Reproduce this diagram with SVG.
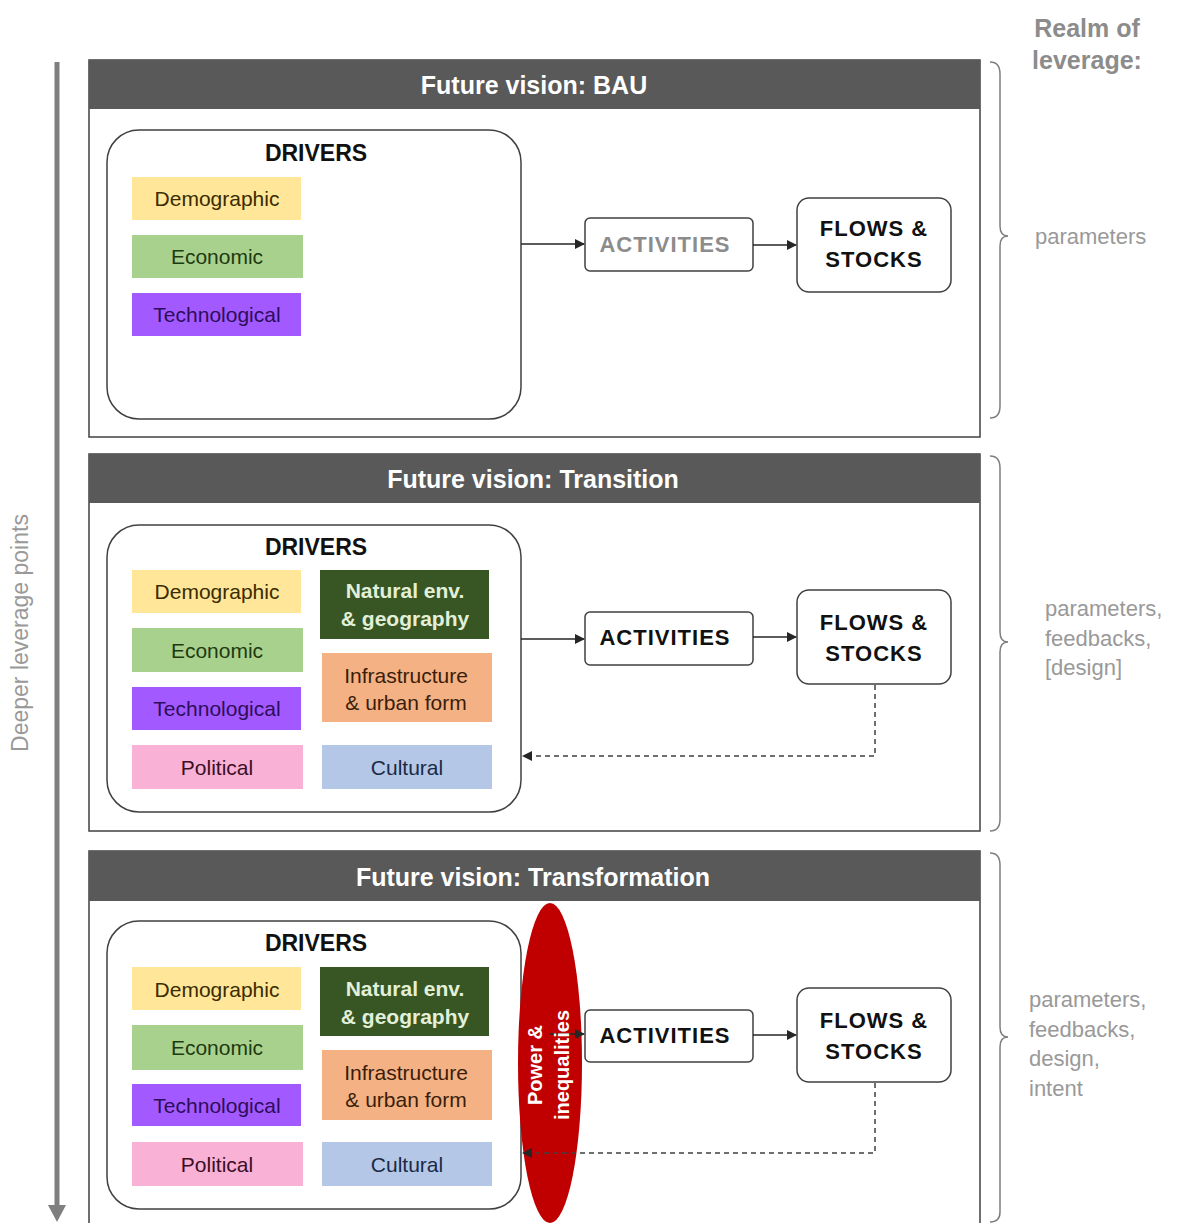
<svg xmlns="http://www.w3.org/2000/svg" width="1181" height="1223" viewBox="0 0 1181 1223">
<defs>
<marker id="ah" viewBox="0 0 10 10" refX="9" refY="5" markerWidth="10" markerHeight="10" markerUnits="userSpaceOnUse" orient="auto"><path d="M0,0 L10,5 L0,10 z" fill="#262626"/></marker>
</defs>
<style>
text{font-family:"Liberation Sans",Arial,sans-serif}
.panel{fill:#fff;stroke:#404040;stroke-width:1.5}
.hdr{fill:#595959}
.ttl{fill:#fff;font-weight:bold;font-size:25px;text-anchor:middle}
.drv{fill:#fff;stroke:#404040;stroke-width:1.5}
.dh{font-weight:bold;font-size:23px;text-anchor:middle;fill:#111}
.lbl{font-size:21px;text-anchor:middle}
.box{fill:#fff;stroke:#404040;stroke-width:1.5}
.bt{font-weight:bold;font-size:22px;text-anchor:middle;fill:#111;letter-spacing:1px}
.con{stroke:#262626;stroke-width:1.5;fill:none}
.dash{stroke:#404040;stroke-width:1.5;fill:none;stroke-dasharray:5,4}
.brace{stroke:#7f7f7f;stroke-width:1.5;fill:none}
.realm{fill:#999;font-size:22px}
</style>
<g id="axis">
<line x1="57" y1="62" x2="57" y2="1210" stroke="#7f7f7f" stroke-width="5"/>
<path d="M48,1205 L66,1205 L57,1222 z" fill="#7f7f7f"/>
<text transform="translate(28,633) rotate(-90)" text-anchor="middle" style="fill:#999;font-size:23px">Deeper leverage points</text>
</g>
<g id="realm-title">
<text x="1087" y="37" text-anchor="middle" style="fill:#8c8c8c;font-size:25px;font-weight:bold">Realm of</text>
<text x="1087" y="69" text-anchor="middle" style="fill:#8c8c8c;font-size:25px;font-weight:bold">leverage:</text>
</g>

<!-- Panel 1 -->
<g id="panel-bau">
<rect class="panel" x="89" y="60" width="891" height="377"/>
<rect class="hdr" x="89" y="60" width="891" height="49"/>
<text class="ttl" x="534" y="94">Future vision: BAU</text>
</g>
<g id="drivers-bau">
<rect class="drv" x="107" y="130" width="414" height="289" rx="32"/>
<text class="dh" x="316" y="161">DRIVERS</text>
<rect x="132" y="177" width="169" height="43" fill="#FFE699"/><text class="lbl" x="217" y="206" fill="#3a2c00">Demographic</text>
<rect x="132" y="235" width="171" height="43" fill="#A9D18E"/><text class="lbl" x="217" y="264" fill="#1e3a10">Economic</text>
<rect x="132" y="293" width="169" height="43" fill="#A259FF"/><text class="lbl" x="217" y="322" fill="#2e0d5a">Technological</text>
</g>
<g id="activities-bau">
<rect class="box" x="585" y="218" width="168" height="53" rx="5"/>
<text class="bt" x="665" y="252" style="fill:#8c8c8c">ACTIVITIES</text>
</g>
<g id="flows-bau">
<rect class="box" x="797" y="198" width="154" height="94" rx="12"/>
<text class="bt" x="874" y="236">FLOWS &amp;</text>
<text class="bt" x="874" y="267">STOCKS</text>
</g>
<g id="realm-bau">
<path class="brace" d="M990,62 Q1000,62 1000,74 L1000,226 Q1000,236 1008,236 Q1000,236 1000,246 L1000,406 Q1000,418 990,418"/>
<text class="realm" x="1035" y="244">parameters</text>
</g>

<!-- Panel 2 -->
<g id="panel-transition">
<rect class="panel" x="89" y="454" width="891" height="377"/>
<rect class="hdr" x="89" y="454" width="891" height="49"/>
<text class="ttl" x="533" y="488">Future vision: Transition</text>
</g>
<g id="drivers-transition">
<rect class="drv" x="107" y="525" width="414" height="287" rx="32"/>
<text class="dh" x="316" y="555">DRIVERS</text>
<rect x="132" y="570" width="169" height="43" fill="#FFE699"/><text class="lbl" x="217" y="599" fill="#3a2c00">Demographic</text>
<rect x="132" y="628" width="171" height="44" fill="#A9D18E"/><text class="lbl" x="217" y="658" fill="#1e3a10">Economic</text>
<rect x="132" y="687" width="169" height="43" fill="#A259FF"/><text class="lbl" x="217" y="716" fill="#2e0d5a">Technological</text>
<rect x="132" y="745" width="171" height="44" fill="#F9B1D6"/><text class="lbl" x="217" y="775" fill="#3a1025">Political</text>
<rect x="320" y="570" width="169" height="69" fill="#375623"/>
<text class="lbl" x="405" y="598" style="font-weight:bold;fill:#E2F0D9">Natural env.</text>
<text class="lbl" x="405" y="626" style="font-weight:bold;fill:#E2F0D9">&amp; geography</text>
<rect x="322" y="653" width="170" height="69" fill="#F4B183"/>
<text class="lbl" x="406" y="683" fill="#3a1d0a">Infrastructure</text>
<text class="lbl" x="406" y="710" fill="#3a1d0a">&amp; urban  form</text>
<rect x="322" y="745" width="170" height="44" fill="#B4C7E7"/><text class="lbl" x="407" y="775" fill="#1a2a45">Cultural</text>
</g>
<g id="activities-transition">
<rect class="box" x="585" y="612" width="168" height="53" rx="5"/>
<text class="bt" x="665" y="645">ACTIVITIES</text>
</g>
<g id="flows-transition">
<rect class="box" x="797" y="590" width="154" height="94" rx="12"/>
<text class="bt" x="874" y="630">FLOWS &amp;</text>
<text class="bt" x="874" y="661">STOCKS</text>
</g>
<g id="realm-transition">
<path class="brace" d="M990,456 Q1000,456 1000,468 L1000,632 Q1000,642 1008,642 Q1000,642 1000,652 L1000,819 Q1000,831 990,831"/>
<text class="realm" x="1045" y="616">parameters,</text>
<text class="realm" x="1045" y="646">feedbacks,</text>
<text class="realm" x="1045" y="675">[design]</text>
</g>

<!-- Panel 3 -->
<g id="panel-transformation">
<rect class="panel" x="89" y="851" width="891" height="380"/>
<rect class="hdr" x="89" y="851" width="891" height="50"/>
<text class="ttl" x="533" y="886">Future vision: Transformation</text>
</g>
<g id="drivers-transformation">
<rect class="drv" x="107" y="921" width="414" height="288" rx="32"/>
<text class="dh" x="316" y="951">DRIVERS</text>
<rect x="132" y="967" width="169" height="43" fill="#FFE699"/><text class="lbl" x="217" y="997" fill="#3a2c00">Demographic</text>
<rect x="132" y="1025" width="171" height="45" fill="#A9D18E"/><text class="lbl" x="217" y="1055" fill="#1e3a10">Economic</text>
<rect x="132" y="1084" width="169" height="42" fill="#A259FF"/><text class="lbl" x="217" y="1113" fill="#2e0d5a">Technological</text>
<rect x="132" y="1142" width="171" height="44" fill="#F9B1D6"/><text class="lbl" x="217" y="1172" fill="#3a1025">Political</text>
<rect x="320" y="967" width="169" height="69" fill="#375623"/>
<text class="lbl" x="405" y="996" style="font-weight:bold;fill:#E2F0D9">Natural env.</text>
<text class="lbl" x="405" y="1024" style="font-weight:bold;fill:#E2F0D9">&amp; geography</text>
<rect x="322" y="1050" width="170" height="70" fill="#F4B183"/>
<text class="lbl" x="406" y="1080" fill="#3a1d0a">Infrastructure</text>
<text class="lbl" x="406" y="1107" fill="#3a1d0a">&amp; urban  form</text>
<rect x="322" y="1142" width="170" height="44" fill="#B4C7E7"/><text class="lbl" x="407" y="1172" fill="#1a2a45">Cultural</text>
</g>
<g id="activities-transformation">
<rect class="box" x="585" y="1010" width="168" height="52" rx="5"/>
<text class="bt" x="665" y="1043">ACTIVITIES</text>
</g>
<g id="flows-transformation">
<rect class="box" x="797" y="988" width="154" height="94" rx="12"/>
<text class="bt" x="874" y="1028">FLOWS &amp;</text>
<text class="bt" x="874" y="1059">STOCKS</text>
</g>
<g id="realm-transformation">
<path class="brace" d="M990,853 Q1000,853 1000,865 L1000,1027 Q1000,1037 1008,1037 Q1000,1037 1000,1047 L1000,1212 Q1000,1222 990,1222"/>
<text class="realm" x="1029" y="1007">parameters,</text>
<text class="realm" x="1029" y="1037">feedbacks,</text>
<text class="realm" x="1029" y="1066">design,</text>
<text class="realm" x="1029" y="1096">intent</text>
</g>

<g id="power">
<ellipse cx="550" cy="1063" rx="32" ry="160" fill="#C00000"/>
</g>

<g id="connectors">
<line class="con" x1="521" y1="244" x2="584" y2="244" marker-end="url(#ah)"/>
<line class="con" x1="753" y1="245" x2="796" y2="245" marker-end="url(#ah)"/>
<line class="con" x1="521" y1="639" x2="584" y2="639" marker-end="url(#ah)"/>
<line class="con" x1="753" y1="637" x2="796" y2="637" marker-end="url(#ah)"/>
<path class="dash" d="M875,685 L875,756 L523,756" marker-end="url(#ah)"/>
<line class="con" x1="550" y1="1034" x2="584" y2="1034" marker-end="url(#ah)"/>
<line class="con" x1="753" y1="1035" x2="796" y2="1035" marker-end="url(#ah)"/>
<path class="dash" d="M875,1083 L875,1153 L523,1153" marker-end="url(#ah)"/>
</g>

<g id="power-label">
<text transform="translate(542,1065) rotate(-90)" text-anchor="middle" style="fill:#fff;font-weight:bold;font-size:20px">Power &amp;</text>
<text transform="translate(569,1065) rotate(-90)" text-anchor="middle" style="fill:#fff;font-weight:bold;font-size:20px">inequalities</text>
</g>
</svg>
